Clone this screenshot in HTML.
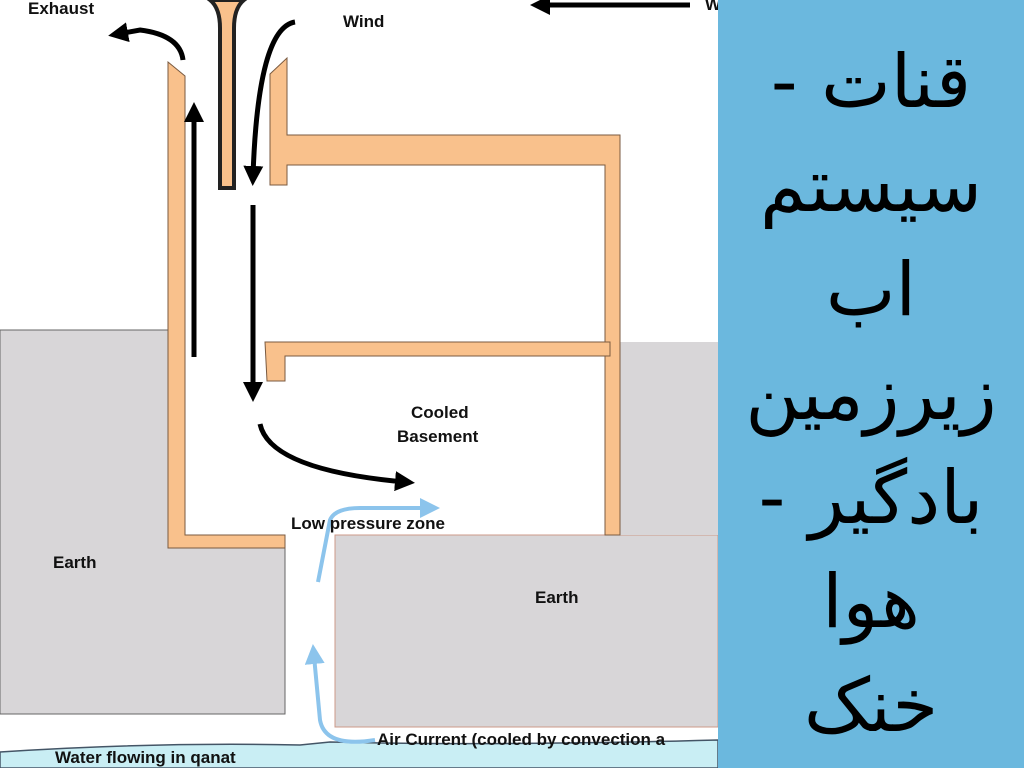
<!DOCTYPE html>
<html><head><meta charset="utf-8"><style>
html,body{margin:0;padding:0;width:1024px;height:768px;overflow:hidden;background:#fff}
svg{position:absolute;left:0;top:0}
.pn{position:absolute;left:718px;top:0;width:306px;height:768px;background:#6bb8de}
.t{position:absolute;left:718px;width:306px;text-align:center;font-family:"DejaVu Sans",sans-serif;font-size:74px;color:#000;line-height:104px;top:30px;direction:rtl;white-space:nowrap}
</style></head><body>
<svg width="1024" height="768" viewBox="0 0 1024 768" font-family="Liberation Sans, sans-serif" font-weight="bold" font-size="17">
<defs><marker id="a" markerWidth="4" markerHeight="4" refX="2" refY="2" orient="auto" markerUnits="strokeWidth"><path d="M0,0 L4,2 L0,4 z" fill="#000"/></marker>
<marker id="b" markerWidth="5" markerHeight="5" refX="2" refY="2.5" orient="auto" markerUnits="strokeWidth"><path d="M0,0 L5,2.5 L0,5 z" fill="#8cc4ec"/></marker></defs>
<!-- earth -->
<path d="M0,330 L168,330 L168,548 L285,548 L285,714 L0,714 z" fill="#d8d6d8" stroke="#666" stroke-width="1"/>
<rect x="335" y="535" width="383" height="192" fill="#d8d6d8" stroke="#c98"/>
<rect x="620" y="342" width="98" height="193" fill="#d8d6d8"/>
<!-- water -->
<path d="M0,752 Q150,742 300,745 L330,742 Q500,746 718,740 L718,768 L0,768 z" fill="#c9eef4" stroke="#456" stroke-width="1.5"/>
<!-- walls -->
<g fill="#f9c18c" stroke="#7a5a40" stroke-width="1">
<path d="M168,62 L185,76 L185,535 L285,535 L285,548 L168,548 z"/>
<path d="M270,74 L287,58 L287,135 L620,135 L620,535 L605,535 L605,165 L287,165 L287,185 L270,185 z"/>
<path d="M265,342 L610,342 L610,356 L285,356 L285,381 L267,381 z"/>
</g>
<!-- vane -->
<path d="M210,0 Q220,8 220,28 L220,188 L234,188 L234,28 Q234,8 244,0 z" fill="#f9c18c" stroke="#222" stroke-width="4"/>
<!-- arrows -->
<g stroke="#000" stroke-width="5" fill="none">
<path d="M183,60 Q180,35 140,30 L118,34" marker-end="url(#a)"/>
<line x1="194" y1="357" x2="194" y2="112" marker-end="url(#a)"/>
<path d="M295,22 Q258,28 253,176" marker-end="url(#a)"/>
<line x1="253" y1="205" x2="253" y2="392" marker-end="url(#a)"/>
<path d="M260,424 Q270,470 405,482" marker-end="url(#a)"/>
<line x1="690" y1="5" x2="540" y2="5" marker-end="url(#a)"/>
</g>
<g stroke="#8cc4ec" stroke-width="4" fill="none">
<path d="M375,740 Q325,748 320,720 L314,656" marker-end="url(#b)"/>
<path d="M318,582 L330,520 Q335,508 360,508 L428,508" marker-end="url(#b)"/>
</g>
<g fill="#111">
<text x="28" y="14">Exhaust</text>
<text x="343" y="27">Wind</text>
<text x="705" y="10">W</text>
<text x="411" y="418">Cooled</text>
<text x="397" y="442">Basement</text>
<text x="291" y="529">Low pressure zone</text>
<text x="53" y="568">Earth</text>
<text x="535" y="603">Earth</text>
<text x="377" y="745">Air Current (cooled by convection a</text>
<text x="55" y="763">Water flowing in qanat</text>
</g>
</svg>
<div class="pn"></div>
<div class="t">قنات -<br>سیستم<br>اب<br>زیرزمین<br>بادگیر -<br>هوا<br>خنک</div>
</body></html>
